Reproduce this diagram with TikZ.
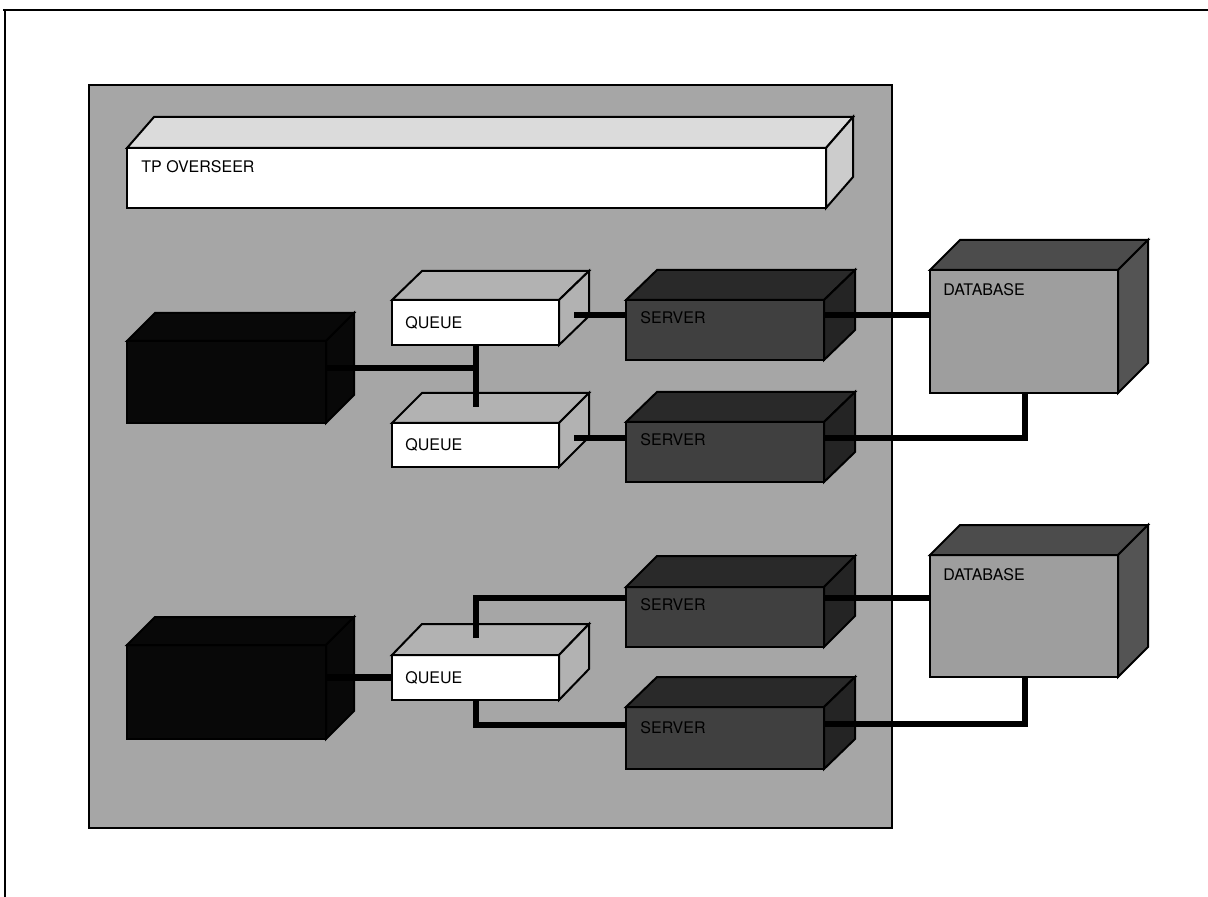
\documentclass[tikz,border=0pt]{standalone}
\usepackage{fontspec}
\setmainfont{TeX Gyre Heros}
\usetikzlibrary{fit,calc}
\definecolor{bggray}{rgb}{0.65,0.65,0.65}
\definecolor{qside}{rgb}{0.70,0.70,0.70}
\definecolor{tptop}{rgb}{0.86,0.86,0.86}
\definecolor{tpside}{rgb}{0.80,0.80,0.80}
\definecolor{srvfront}{rgb}{0.25,0.25,0.25}
\definecolor{srvtop}{rgb}{0.16,0.16,0.16}
\definecolor{srvside}{rgb}{0.14,0.14,0.14}
\definecolor{dbfront}{rgb}{0.62,0.62,0.62}
\definecolor{dbtop}{rgb}{0.30,0.30,0.30}
\definecolor{dbside}{rgb}{0.33,0.33,0.33}
\definecolor{blk}{rgb}{0.03,0.03,0.03}
\tikzset{
  facebox/.style={draw=black, line width=1pt, line join=miter},
  conn/.style={draw=black, line width=3.3pt, line join=miter, line cap=butt},
  lbl/.style={font=\fontsize{8}{9}\selectfont, inner sep=0pt, anchor=west, text=black},
}
% #1 name, #2 NW corner, #3 SE corner, #4 dx, #5 dy, #6 front, #7 top, #8 side
\newcommand\cubebox[8]{%
  \node[fit={#2 #3}, inner sep=0pt, outer sep=0pt, facebox, fill=#6] (#1) {};
  \filldraw[facebox, fill=#7] (#1.north west) -- ++(#4,#5) -- ([shift={(#4,#5)}]#1.north east) -- (#1.north east) -- cycle;
  \filldraw[facebox, fill=#8] (#1.north east) -- ++(#4,#5) -- ([shift={(#4,#5)}]#1.south east) -- (#1.south east) -- cycle;
}
\begin{document}
\begin{tikzpicture}[x=0.5pt,y=-0.5pt]
\useasboundingbox (0,0) rectangle (1208,897);
\fill[white] (0,0) rectangle (1208,897);
% outer frame
\draw[line width=1pt] (3,10) -- (1208,10);
\draw[line width=1pt] (5,10) -- (5,897);
% grey environment box
\node[fit={(89,85) (892,828)}, inner sep=0pt, draw=black, line width=1.2pt, fill=bggray] (env) {};
% boxes
\cubebox{tp}{(127,148)}{(826,208)}{27}{-31}{white}{tptop}{tpside}
\cubebox{bb1}{(127,341)}{(326,423)}{28}{-28}{blk}{blk}{blk}
\cubebox{bb2}{(127,645)}{(326,739)}{28}{-28}{blk}{blk}{blk}
\cubebox{q1}{(392,300)}{(559,345)}{30}{-29}{white}{qside}{qside}
\cubebox{q2}{(392,423)}{(559,467)}{30}{-30}{white}{qside}{qside}
\cubebox{q3}{(392,655)}{(559,700)}{30}{-31}{white}{qside}{qside}
\cubebox{s1}{(626,300)}{(824,360)}{31}{-30}{srvfront}{srvtop}{srvside}
\cubebox{s2}{(626,422)}{(824,482)}{31}{-30}{srvfront}{srvtop}{srvside}
\cubebox{s3}{(626,587)}{(824,647)}{31}{-31}{srvfront}{srvtop}{srvside}
\cubebox{s4}{(626,707)}{(824,769)}{31}{-30}{srvfront}{srvtop}{srvside}
\cubebox{db1}{(930,270)}{(1118,393)}{30}{-30}{dbfront}{dbtop}{dbside}
\cubebox{db2}{(930,555)}{(1118,677)}{30}{-30}{dbfront}{dbtop}{dbside}
% junction coordinates
\coordinate (j1) at (476,368);
\coordinate (j1b) at (476,407);
\coordinate (a1) at (574,315);
\coordinate (a2) at (574,438);
\coordinate (c1) at (1025,438);
\coordinate (j3) at (476,598);
\coordinate (j3b) at (476,638);
\coordinate (j4) at (476,725);
\coordinate (c2) at (1025,724);
% connectors upper system
\draw[conn] (bb1.east |- j1) -- (j1);
\draw[conn] (q1.south -| j1) -- (j1b);
\draw[conn] (a1) -- (a1 -| s1.west);
\draw[conn] (a2) -- (a2 -| s2.west);
\draw[conn] (s1.east |- a1) -- (a1 -| db1.west);
\draw[conn] (c1 |- db1.south) -- (c1) -- (c1 -| s2.east);
% connectors lower system
\draw[conn] (bb2.east |- q3.west) -- (q3.west);
\draw[conn] (j3b) -- (j3) -- (j3 -| s3.west);
\draw[conn] (q3.south -| j4) -- (j4) -- (j4 -| s4.west);
\draw[conn] (s3.east |- j3) -- (j3 -| db2.west);
\draw[conn] (c2 |- db2.south) -- (c2) -- (c2 -| s4.east);
% labels
\node[lbl] at ([shift={(14,19)}]tp.north west) {TP OVERSEER};
\node[lbl] at ([shift={(13,0)}]q1.west) {QUEUE};
\node[lbl] at ([shift={(13,0)}]q2.west) {QUEUE};
\node[lbl] at ([shift={(13,0)}]q3.west) {QUEUE};
\node[lbl] at ([shift={(14,18)}]s1.north west) {SERVER};
\node[lbl] at ([shift={(14,18)}]s2.north west) {SERVER};
\node[lbl] at ([shift={(14,18)}]s3.north west) {SERVER};
\node[lbl] at ([shift={(14,21)}]s4.north west) {SERVER};
\node[lbl] at ([shift={(13,20)}]db1.north west) {DATABASE};
\node[lbl] at ([shift={(13,20)}]db2.north west) {DATABASE};
\end{tikzpicture}
\end{document}
